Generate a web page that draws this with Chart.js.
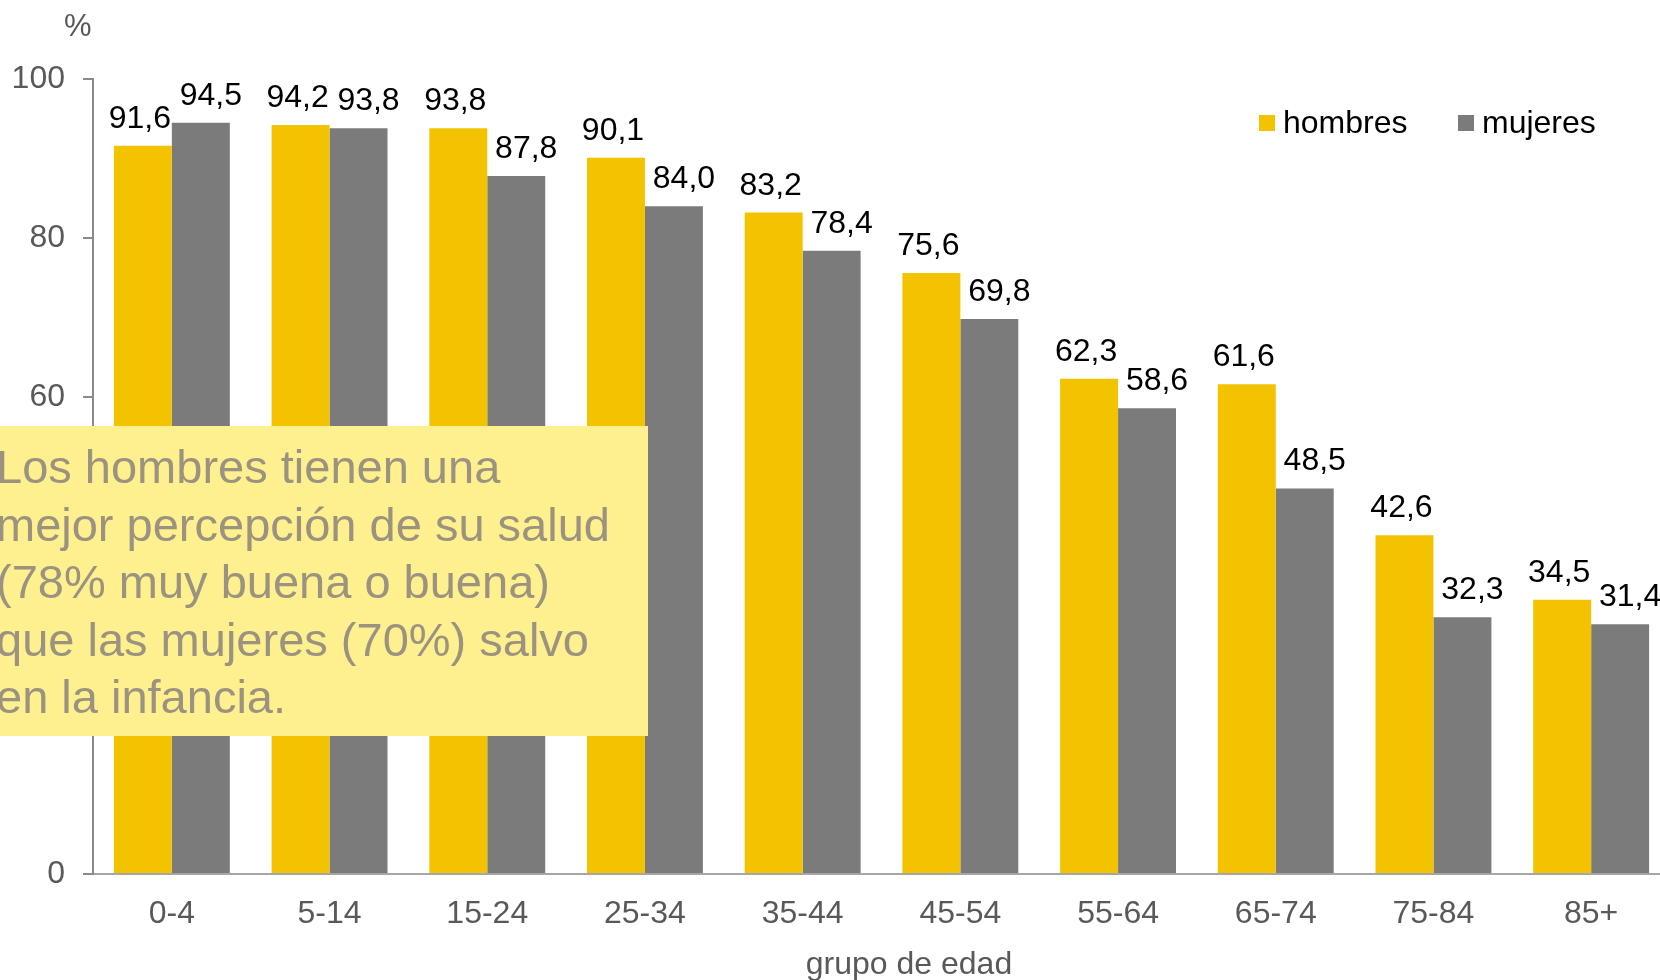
<!DOCTYPE html>
<html lang="es">
<head>
  <meta charset="UTF-8" />
  <title>Percepción de salud por grupo de edad</title>
  <script src="https://cdn.jsdelivr.net/npm/chart.js@4.4.0/dist/chart.umd.min.js"></script>
  <style>
    * { margin: 0; padding: 0; box-sizing: border-box; }
    html, body { width: 1660px; height: 980px; overflow: hidden; background: #fff; }
    .wrap { position: relative; width: 1660px; height: 980px; overflow: hidden; }
    .wrap canvas { position: absolute; left: 0; top: 0; }
  </style>
</head>
<body>
  <div class="wrap"><canvas id="chart" width="1700" height="980"></canvas></div>

  <script>
    // data
    const ageGroups = ["0-4", "5-14", "15-24", "25-34", "35-44", "45-54", "55-64", "65-74", "75-84", "85+"];
    const hombres = [91.6, 94.2, 93.8, 90.1, 83.2, 75.6, 62.3, 61.6, 42.6, 34.5];
    const mujeres = [94.5, 93.8, 87.8, 84.0, 78.4, 69.8, 58.6, 48.5, 32.3, 31.4];
    const yTicks = [0, 20, 40, 60, 80, 100];

    const noteLines = [
      "Los hombres tienen una",
      "mejor percepción de su salud",
      "(78% muy buena o buena)",
      "que las mujeres (70%) salvo",
      "en la infancia."
    ];

    const FONT = '"Liberation Sans", Arial, sans-serif';
    const YELLOW = "#f3c300";
    const GREY = "#7b7b7b";
    const AXIS_TEXT = "#595959";

    const fmt = v => v.toFixed(1).replace(".", ",");

    const extras = {
      id: "extras",
      afterDatasetsDraw(chart) {
        const ctx = chart.ctx;
        ctx.save();
        ctx.font = "32px " + FONT;
        ctx.fillStyle = "#000";
        ctx.textAlign = "center";
        ctx.textBaseline = "alphabetic";
        chart.data.datasets.forEach((ds, i) => {
          const dx = i === 0 ? -3 : 10;
          chart.getDatasetMeta(i).data.forEach((bar, j) => {
            ctx.fillText(fmt(ds.data[j]), bar.x + dx, bar.y - 18);
          });
        });
        ctx.restore();
      },
      afterDraw(chart) {
        const ctx = chart.ctx;
        ctx.save();

        // "%" unit above the y axis
        ctx.font = "31px " + FONT;
        ctx.fillStyle = AXIS_TEXT;
        ctx.textAlign = "left";
        ctx.fillText("%", 64, 36);

        // x axis title
        ctx.font = "32px " + FONT;
        ctx.textAlign = "center";
        ctx.fillText("grupo de edad", 909, 974);

        // legend
        ctx.textAlign = "left";
        const legendX = [1259, 1458];
        chart.data.datasets.forEach((ds, i) => {
          ctx.fillStyle = ds.backgroundColor;
          ctx.fillRect(legendX[i], 115, 16, 16);
          ctx.fillStyle = "#000";
          ctx.fillText(ds.label, legendX[i] + 24, 133);
        });

        // note box
        ctx.fillStyle = "#fff08f";
        ctx.fillRect(0, 426, 648, 310);
        ctx.fillStyle = "#9b9280";
        ctx.font = "47px " + FONT;
        noteLines.forEach((line, k) => ctx.fillText(line, -4, 483 + k * 57.5));

        ctx.restore();
      }
    };

    new Chart(document.getElementById("chart"), {
      type: "bar",
      data: {
        labels: ageGroups,
        datasets: [
          { label: "hombres", data: hombres, backgroundColor: YELLOW },
          { label: "mujeres", data: mujeres, backgroundColor: GREY }
        ]
      },
      options: {
        responsive: false,
        animation: false,
        devicePixelRatio: 1,
        layout: { padding: { top: 79, right: 30, left: 0, bottom: 0 } },
        datasets: { bar: { categoryPercentage: 0.735, barPercentage: 1 } },
        plugins: { legend: { display: false }, tooltip: { enabled: false } },
        scales: {
          x: {
            grid: { display: false },
            border: { color: "#a6a6a6", width: 2 },
            ticks: { color: AXIS_TEXT, font: { family: FONT, size: 32 }, padding: 13, maxRotation: 0 },
            afterFit: s => { s.height = 106; }
          },
          y: {
            min: 0,
            max: 100,
            afterBuildTicks: s => { s.ticks = yTicks.map(v => ({ value: v })); },
            grid: { drawOnChartArea: false, drawTicks: true, tickLength: 10, color: "#898989", lineWidth: 2 },
            border: { color: "#898989", width: 2 },
            ticks: { color: AXIS_TEXT, font: { family: FONT, size: 32 }, padding: 18 },
            afterFit: s => { s.width = 93; }
          }
        }
      },
      plugins: [extras]
    });
  </script>
</body>
</html>
